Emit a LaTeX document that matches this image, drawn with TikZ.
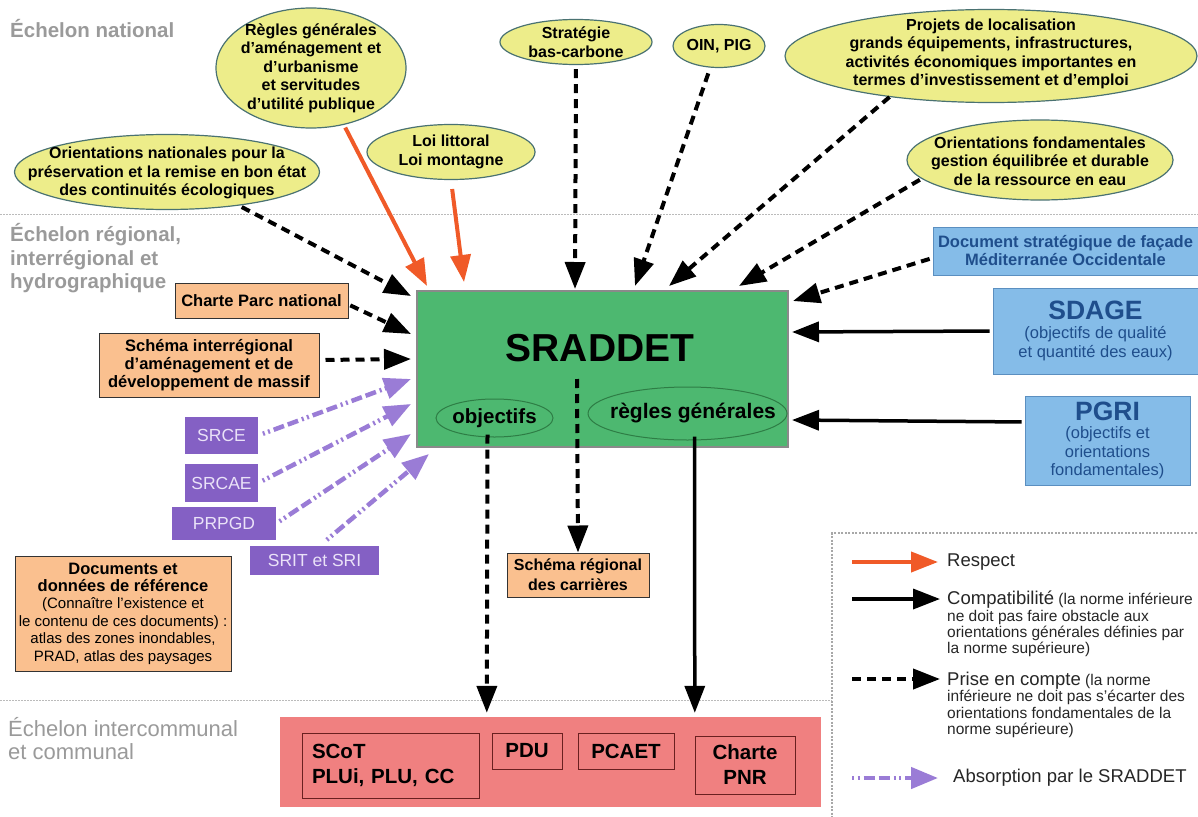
\documentclass[tikz,border=0pt]{standalone}
\usepackage{fontspec}
\setmainfont{Liberation Sans}
\usetikzlibrary{shapes.geometric,arrows.meta,calc}
\definecolor{ellfill}{HTML}{EDED8A}
\definecolor{ellborder}{HTML}{4A7272}
\definecolor{srgreen}{HTML}{4DB870}
\definecolor{srborder}{HTML}{8A8A8A}
\definecolor{innerell}{HTML}{2E7D45}
\definecolor{orangefill}{HTML}{FAC08F}
\definecolor{purplefill}{HTML}{8460C4}
\definecolor{purpletext}{HTML}{EAE2F8}
\definecolor{purplearrow}{HTML}{9A7CD6}
\definecolor{bluefill}{HTML}{85BCE8}
\definecolor{blueborder}{HTML}{5B8FC0}
\definecolor{bluetext}{HTML}{1F4E8C}
\definecolor{pinkfill}{HTML}{F08080}
\definecolor{pinkborder}{HTML}{6A2020}
\definecolor{redarrow}{HTML}{F05A28}
\definecolor{labelgray}{HTML}{9A9A9A}
\definecolor{sepgray}{HTML}{BBBBBB}
\newcommand\fsz[2]{\fontsize{#1pt}{#2pt}\selectfont}
\begin{document}
\begin{tikzpicture}[x=1pt,y=-1pt,
  ell/.style={ellipse, draw=ellborder, fill=ellfill, line width=1.2pt, inner sep=0pt},
  etext/.style={align=center, font=\bfseries\fsz{16}{18.5}, inner sep=0pt},
  obox/.style={draw=black!80, fill=orangefill, line width=1pt, align=center, inner sep=0pt, font=\bfseries\fsz{16.5}{18}},
  pbox/.style={fill=purplefill, text=purpletext, font=\fsz{17.5}{20}, inner sep=0pt},
  bbox/.style={fill=bluefill, draw=blueborder, line width=1pt, text=bluetext, align=center, inner sep=0pt},
  ibox/.style={draw=pinkborder, line width=1pt, font=\bfseries\fsz{20.5}{25}, inner sep=0pt, align=center},
  dsh/.style={line width=4pt, dash pattern=on 9pt off 6pt, -{Triangle[length=27pt,width=20pt]}},
  sol/.style={line width=3.5pt, -{Triangle[length=27pt,width=20pt]}},
  resp/.style={draw=redarrow, line width=4pt, -{Triangle[length=27pt,width=20pt]}},
  absb/.style={draw=purplearrow, line width=4.5pt, dash pattern=on 2pt off 3.5pt on 2pt off 4pt on 11pt off 4pt on 11pt off 4pt, -{Triangle[length=27pt,width=21pt]}},
  glabel/.style={text=labelgray, font=\bfseries\fsz{20.5}{23.5}, align=left, inner sep=0pt, anchor=west},
  sep/.style={draw=sepgray, line width=1pt, dash pattern=on 1.5pt off 1.5pt},
  legb/.style={draw=sepgray!90!black, line width=2.5pt, dash pattern=on 2pt off 1.5pt},
  legt/.style={align=left, inner sep=0pt, font=\fsz{15.5}{16.3}, text=black!85}
]
\useasboundingbox (0,0) rectangle (1198,816);
\fill[white] (0,0) rectangle (1198,816);

% separators and level labels
\draw[sep] (0,214) -- (1198,214);
\draw[sep] (0,700) -- (832,700);
\node[glabel] (lnat) at (10,29) {Échelon national};
\node[glabel] (lreg) at (10,258.4) {Échelon régional,\\interrégional et\\hydrographique};
\node[glabel, font=\fsz{22}{23}] (lcom) at (8,738.5) {Échelon intercommunal\\et communal};

% national ellipses
\node[ell, minimum width=190pt, minimum height=120pt] (rg) at (311,68) {};
\node[etext] at (rg) {Règles générales\\d’aménagement et\\d’urbanisme\\et servitudes\\d’utilité publique};
\node[ell, minimum width=305pt, minimum height=75pt] (on) at (167,172) {};
\node[etext] at (167,173) {Orientations nationales pour la\\préservation et la remise en bon état\\des continuités écologiques};
\node[ell, minimum width=168pt, minimum height=55pt] (ll) at (451,152) {};
\node[etext] at (ll) {Loi littoral\\Loi montagne};
\node[ell, minimum width=152pt, minimum height=45pt] (sb) at (576,42) {};
\node[etext] at (sb) {Stratégie\\bas-carbone};
\node[ell, minimum width=92pt, minimum height=43pt] (oin) at (719,46) {};
\node[etext] at (oin) {OIN, PIG};
\node[ell, minimum width=412pt, minimum height=93pt] (pj) at (991,56) {};
\node[etext] at (991,54) {Projets de localisation\\grands équipements, infrastructures,\\activités économiques importantes en\\termes d’investissement et d’emploi};
\node[ell, minimum width=266pt, minimum height=80pt] (of) at (1040,160) {};
\node[etext] at (1040,161) {Orientations fondamentales\\gestion équilibrée et durable\\de la ressource en eau};

% SRADDET
\node[fill=srgreen, draw=srborder, line width=2pt, minimum width=371pt, minimum height=156pt, inner sep=0pt] (s) at (602.5,369) {};
\node[font=\bfseries\fsz{39}{40}, inner sep=0pt] (st) at (600,348) {SRADDET};
\node[ellipse, draw=innerell, line width=1pt, minimum width=117pt, minimum height=38pt, inner sep=0pt] (ob) at (494.5,418) {};
\node[font=\bfseries\fsz{20.5}{22}, inner sep=0pt] at (ob) {objectifs};
\node[ellipse, draw=innerell, line width=1pt, minimum width=199pt, minimum height=53pt, inner sep=0pt] (rgl) at (687.5,413.5) {};
\node[font=\bfseries\fsz{21}{22}, inner sep=0pt] at (693,413) {règles générales};

% regional orange boxes
\node[obox, minimum width=173pt, minimum height=35pt] (charte) at (261.5,300.5) {Charte Parc national};
\node[obox, minimum width=220pt, minimum height=64pt] (schema) at (209,365) {Schéma interrégional\\d’aménagement et de\\développement de massif};
\node[obox, minimum width=142pt, minimum height=44pt, font=\bfseries\fsz{16}{20}] (carr) at (578,575) {Schéma régional\\des carrières};
\node[obox, minimum width=216pt, minimum height=115pt, font=\fsz{15}{17.4}] (docs) at (123,613.5) {{\bfseries\fsz{16.5}{17.4}Documents et}\\{\bfseries\fsz{16.5}{17.4}données de référence}\\(Connaître l'existence et\\le contenu de ces documents) :\\atlas des zones inondables,\\PRAD, atlas des paysages};

% purple boxes
\node[pbox, minimum width=73pt, minimum height=37pt] (srce) at (221.5,435.5) {SRCE};
\node[pbox, minimum width=73pt, minimum height=38pt] (srcae) at (221.5,483) {SRCAE};
\node[pbox, minimum width=104pt, minimum height=33pt] (prpgd) at (224,523.5) {PRPGD};
\node[pbox, minimum width=129pt, minimum height=29pt] (srit) at (314.5,560.5) {SRIT et SRI};

% blue boxes
\node[bbox, minimum width=265pt, minimum height=48pt, font=\bfseries\fsz{16.5}{18}] (dsf) at (1065.5,251) {Document stratégique de façade\\Méditerranée Occidentale};
\node[bbox, minimum width=205pt, minimum height=86pt, font=\fsz{16.5}{19}] (sdage) at (1095.5,331) {{\bfseries\fsz{26.5}{26}SDAGE}\\(objectifs de qualité\\et quantité des eaux)};
\node[bbox, minimum width=165pt, minimum height=89pt, font=\fsz{16.5}{18.5}] (pgri) at (1107.5,440.5) {{\bfseries\fsz{26.5}{23}PGRI}\\(objectifs et\\orientations\\fondamentales)};

% communal level
\node[fill=pinkfill, minimum width=541pt, minimum height=90pt, inner sep=0pt] (pink) at (550.5,762) {};
\node[ibox, minimum width=177pt, minimum height=65pt, text width=157pt, align=left] (scot) at (390.5,765.5) {SCoT\\PLUi, PLU, CC};
\node[ibox, minimum width=70pt, minimum height=36pt] (pdu) at (527,751) {PDU};
\node[ibox, minimum width=96pt, minimum height=36pt] (pcaet) at (626,751) {PCAET};
\node[ibox, minimum width=100pt, minimum height=58pt] (pnr) at (745,765) {Charte\\PNR};

% arrows into SRADDET
\draw[dsh, shorten <=3pt] (on.-25) -- ($(s.north west)+(-5,6)$);
\draw[resp, shorten <=3pt] (rg.-60) -- ($(s.north west)+(11,-4)$);
\draw[resp, shorten <=9pt] (ll.south) -- ($(s.north west)+(48,-8)$);
\draw[dsh, shorten <=4pt] (sb.south) -- ($(s.north west)+(159,-1)$);
\draw[dsh, shorten <=6pt] (oin.-112) -- ($(s.north west)+(219,-4)$);
\draw[dsh] (pj.-158) -- ($(s.north west)+(253,-4)$);
\draw[dsh, shorten <=2pt] (of.-171) -- ($(s.north west)+(323,-4)$);
\draw[dsh, shorten <=3pt] ([yshift=-7pt]dsf.west) -- ($(s.north east)+(4,11)$);
\draw[sol, shorten <=3pt] (sdage.west) -- ($(s.north east)+(3,42)$);
\draw[sol, shorten <=3pt] ([yshift=18.5pt]pgri.west) -- ($(s.north east)+(3,130)$);
\draw[dsh, shorten <=2pt] ([yshift=-4pt]charte.east) -- ($(s.north west)+(-5,44)$);
\draw[dsh, shorten <=6pt] ([yshift=5pt]schema.east) -- ($(s.north west)+(-5,69)$);
\draw[absb, shorten <=5pt] (srce.east) -- ($(s.north west)+(-5,89)$);
\draw[absb, shorten <=5pt] (srcae.east) -- ($(s.north west)+(-5,114)$);
\draw[absb, shorten <=4pt] (prpgd.east) -- ($(s.north west)+(-5,144)$);
\draw[absb] ($(srit.north west)+(77,-6)$) -- ($(s.south west)+(13,6)$);

% arrows out of SRADDET
\draw[dsh] ($(s.south west)+(161,-69)$) -- (carr.north);
\draw[dsh] ($(ob.south)+(-7,-3)$) -- ($(pink.north west)+(207,-4)$);
\draw[sol] ($(rgl.south)+(7,-4)$) -- ($(pink.north west)+(415,-4)$);

% legend
\draw[legb] (1200,533) -- (832,533) -- (832,818);
\node[legt, anchor=west, font=\fsz{18.5}{20}] (lresp) at (947,562) {Respect};
\node[legt, anchor=north west] (lcomp) at (947,591) {{\fsz{18.5}{16.3}Compatibilité} (la norme inférieure\\ne doit pas faire obstacle aux\\orientations générales définies par\\la norme supérieure)};
\node[legt, anchor=north west] (lpris) at (947,672) {{\fsz{18.5}{16.3}Prise en compte} (la norme\\inférieure ne doit pas s'écarter des\\orientations fondamentales de la\\norme supérieure)};
\node[legt, anchor=west, font=\fsz{18.5}{20}] (labs) at (953,778) {Absorption par le SRADDET};
\coordinate (k1) at (852,562);
\coordinate (k2) at (852,599);
\coordinate (k3) at (852,679);
\coordinate (k4) at (852,778);
\draw[resp] (k1) -- ([xshift=-9pt]lresp.west);
\draw[sol] (k2) -- (940,599);
\draw[dsh] (k3) -- (940,679);
\draw[absb] (k4) -- ([xshift=-15pt]labs.west);
\end{tikzpicture}
\end{document}
